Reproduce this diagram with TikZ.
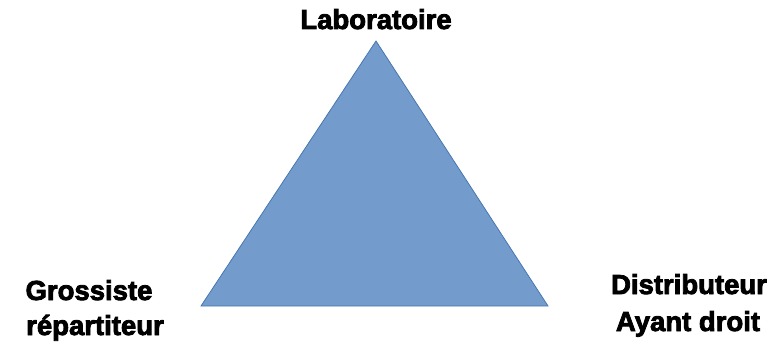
\documentclass[tikz,border=0pt]{standalone}
\usepackage{fontspec}
\setmainfont{Liberation Sans}
\newfontfamily\heavyfont{Liberation Sans}[BoldFeatures={FakeBold=3}]
\definecolor{trifill}{RGB}{115,156,205}
\definecolor{triline}{RGB}{70,118,176}
\begin{document}
\begin{tikzpicture}[x=1pt,y=-1pt,
  lbl/.style={font=\heavyfont\fontsize{27.5}{36}\selectfont\bfseries, align=center, inner sep=0pt, anchor=base}]
\useasboundingbox (0,0) rectangle (777,345);
\coordinate (top) at (376,41);
\coordinate (bl) at (201,306);
\coordinate (br) at (548,306);
\filldraw[fill=trifill, draw=triline, line width=0.8pt, line join=miter] (top) -- (bl) -- (br) -- cycle;
\node[lbl] (labo) at (376,29) {Laboratoire};
\node[lbl] (gros1) at (89,300) {Grossiste};
\node[lbl] (gros2) at (95,335) {répartiteur};
\node[lbl] (dist1) at (689,294) {Distributeur};
\node[lbl] (dist2) at (688,331) {Ayant droit};
\end{tikzpicture}
\end{document}
